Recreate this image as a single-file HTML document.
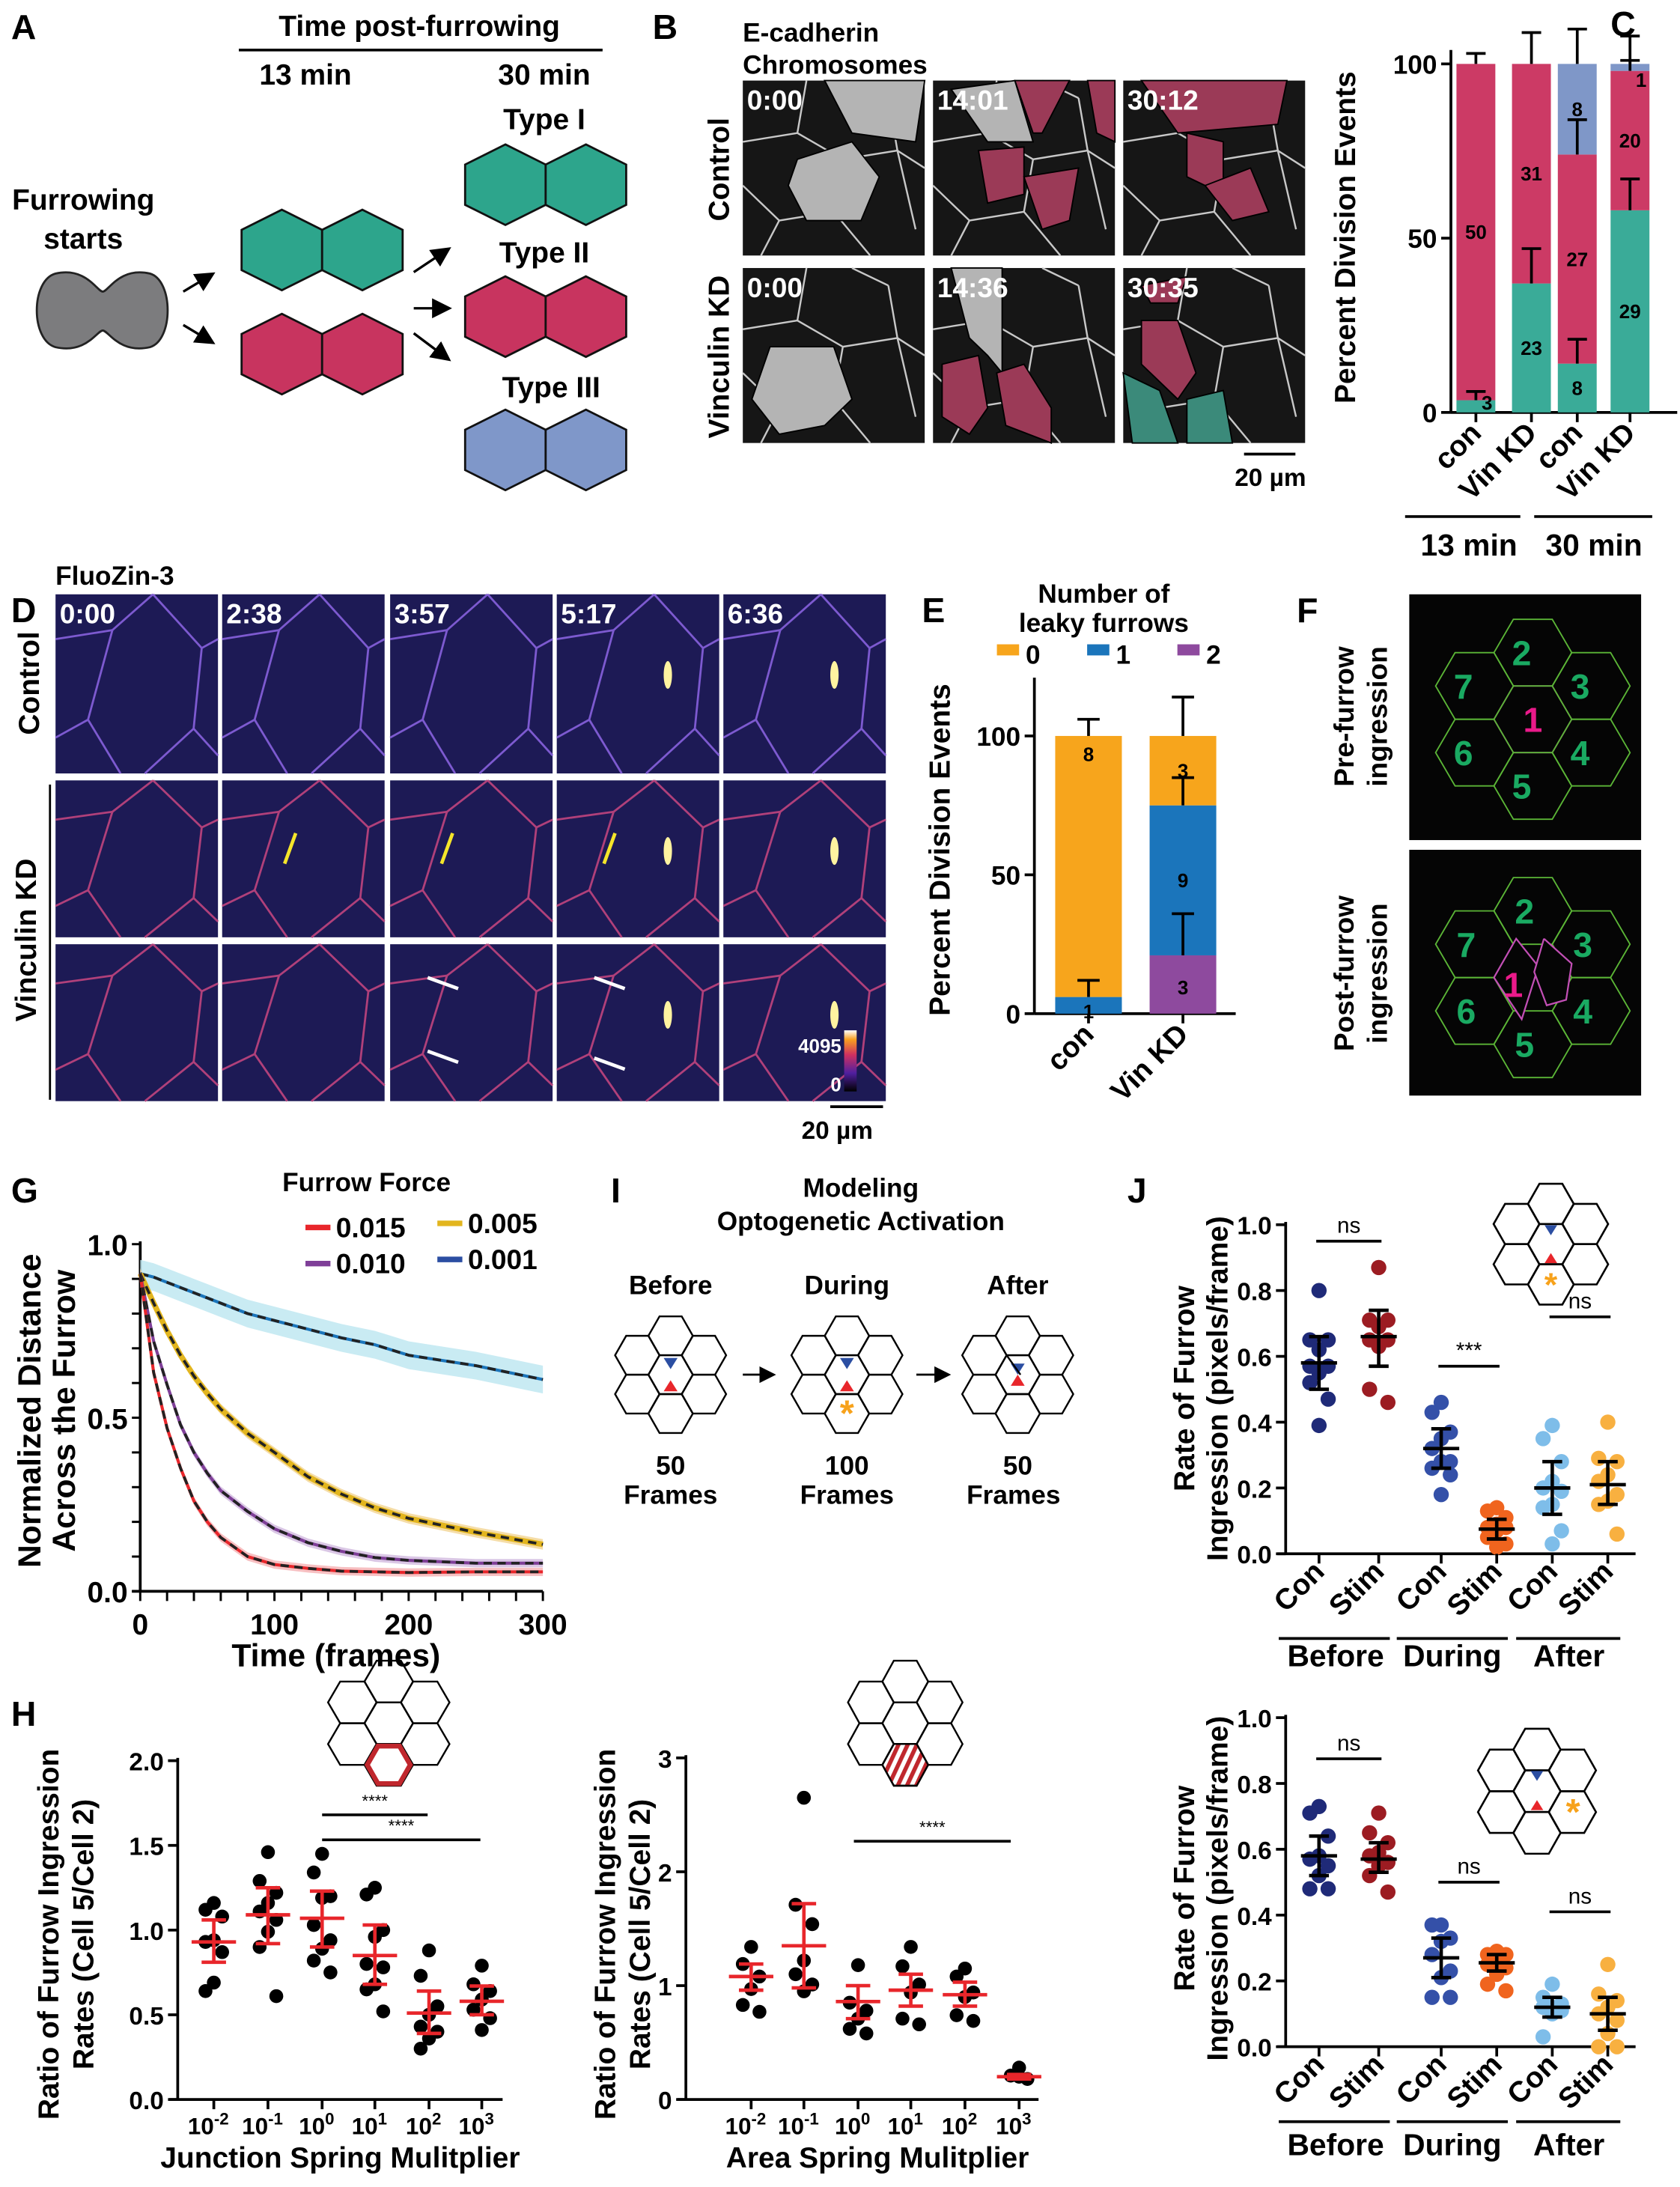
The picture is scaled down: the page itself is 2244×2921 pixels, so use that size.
<!DOCTYPE html>
<html><head><meta charset="utf-8"><style>
html,body{margin:0;padding:0;background:#fff;}
svg{display:block;font-family:"Liberation Sans",Arial,sans-serif;font-weight:bold;}
</style></head><body>
<svg id="fig" xmlns="http://www.w3.org/2000/svg" width="2244" height="2921" viewBox="0 0 1210 1575">
<rect x="0" y="0" width="1210" height="1575" fill="#fff"/>
<g font-size="25" fill="#000">
<text x="8" y="28">A</text><text x="470" y="28">B</text><text x="1160" y="26">C</text>
<text x="8" y="448">D</text><text x="664" y="448">E</text><text x="934" y="448">F</text>
<text x="8" y="866">G</text><text x="440" y="866">I</text><text x="812" y="866">J</text>
<text x="8" y="1243">H</text>
</g>
<g font-size="21" text-anchor="middle">
<text x="302" y="26">Time post-furrowing</text>
<line x1="172" y1="36" x2="434" y2="36" stroke="#000" stroke-width="2"/>
<text x="220" y="61">13 min</text><text x="392" y="61">30 min</text>
<text x="392" y="93">Type I</text><text x="392" y="189">Type II</text><text x="397" y="286">Type III</text>
<text x="60" y="151">Furrowing</text><text x="60" y="179">starts</text>
</g>
<g id="panelA"></g>
<g font-size="19">
<text x="535" y="30">E-cadherin</text><text x="535" y="53">Chromosomes</text>
<text transform="translate(525,122) rotate(-90)" text-anchor="middle" font-size="21">Control</text>
<text transform="translate(525,257) rotate(-90)" text-anchor="middle" font-size="21">Vinculin KD</text>
<line x1="896" y1="327" x2="933" y2="327" stroke="#000" stroke-width="2"/>
<text x="915" y="350" text-anchor="middle" font-size="18">20 µm</text>
</g>
<g id="panelB"></g>
<g id="panelC"></g>
<g font-size="19">
<text x="40" y="421">FluoZin-3</text>
<text transform="translate(28,492) rotate(-90)" text-anchor="middle" font-size="21">Control</text>
<text transform="translate(26,677) rotate(-90)" text-anchor="middle" font-size="21">Vinculin KD</text>
<line x1="36" y1="565" x2="36" y2="792" stroke="#000" stroke-width="1.5"/>
<line x1="598" y1="797" x2="636" y2="797" stroke="#000" stroke-width="2"/>
<text x="603" y="820" text-anchor="middle" font-size="18">20 µm</text>
</g>
<g id="panelD"></g>
<g id="panelE"></g>
<g font-size="20" text-anchor="middle">
<text transform="translate(975,516) rotate(-90)">Pre-furrow</text>
<text transform="translate(999,516) rotate(-90)">ingression</text>
<text transform="translate(975,701) rotate(-90)">Post-furrow</text>
<text transform="translate(999,701) rotate(-90)">ingression</text>
</g>
<g id="panelF"></g>
<g id="panelG"></g>
<g font-size="19" text-anchor="middle">
<text x="620" y="862">Modeling</text><text x="620" y="886">Optogenetic Activation</text>
<text x="483" y="932">Before</text><text x="610" y="932">During</text><text x="733" y="932">After</text>
<text x="483" y="1062">50</text><text x="483" y="1083">Frames</text>
<text x="610" y="1062">100</text><text x="610" y="1083">Frames</text>
<text x="733" y="1062">50</text><text x="730" y="1083">Frames</text>
</g>
<g id="panelI"></g>
<g id="panelH"></g>
<g id="panelJ"></g>
</svg>
<script>
// ---------------- DATA ----------------
const cCats = ['con', 'Vin KD', 'con', 'Vin KD'];
const cTeal = [3.5, 37, 14, 58];
const cMag = [96.5, 63, 60, 40];
const cBlue = [0, 0, 26, 2];
const cTealN = ['3', '23', '8', '29'];
const cMagN = ['50', '31', '27', '20'];
const cBlueN = ['', '', '8', '1'];
const cTealErr = [2.5, 10, 7, 9];
const cMagErr = [3, 9, 10, 3];
const cBlueErr = [0, 0, 10, 8];
const cTicks = [0, 50, 100];
const eCats = ['con', 'Vin KD'];
const e2 = [0, 21];
const e1 = [6, 54];
const e0 = [94, 25];
const e2Err = [0, 15];
const e1Err = [6, 10];
const e0Err = [6, 14];
const e0N = ['8', '3'];
const e1N = ['1', '9'];
const e2N = ['', '3'];
const eTicks = [0, 50, 100];
const gT = [0, 10, 20, 30, 40, 50, 60, 80, 100, 125, 150, 175, 200, 250, 300];
const gRed = [0.915, 0.63, 0.47, 0.355, 0.26, 0.20, 0.155, 0.10, 0.077, 0.066, 0.058, 0.056, 0.054, 0.056, 0.056];
const gPurple = [0.915, 0.72, 0.595, 0.48, 0.40, 0.34, 0.29, 0.23, 0.18, 0.14, 0.115, 0.097, 0.089, 0.081, 0.081];
const gYellow = [0.915, 0.83, 0.75, 0.68, 0.62, 0.57, 0.525, 0.455, 0.40, 0.33, 0.28, 0.24, 0.21, 0.17, 0.135];
const gBlue = [0.915, 0.905, 0.89, 0.875, 0.86, 0.845, 0.83, 0.80, 0.78, 0.755, 0.73, 0.71, 0.68, 0.65, 0.61];
const gBand = [0.012, 0.012, 0.015, 0.04];
const gLegend = ['0.015', '0.010', '0.005', '0.001'];
const gYTicks = [0, 0.5, 1.0];
const gXTicks = [0, 100, 200, 300];
const hCats = ['-2', '-1', '0', '1', '2', '3'];
const hLeftDots = [[1.16,1.12,1.08,0.94,0.93,0.87,0.69,0.64],[1.46,1.29,1.22,1.16,1.11,1.06,0.99,0.9,0.61],[1.45,1.34,1.2,1.19,1.03,0.94,0.89,0.82,0.75],[1.25,1.21,1.0,0.96,0.8,0.78,0.68,0.65,0.52],[0.88,0.73,0.55,0.5,0.43,0.4,0.36,0.3],[0.79,0.68,0.64,0.59,0.53,0.48,0.41]];
const hLeftMean = [0.93, 1.09, 1.07, 0.85, 0.51, 0.58];
const hLeftLo = [0.81, 0.92, 0.9, 0.68, 0.39, 0.5];
const hLeftHi = [1.06, 1.25, 1.23, 1.03, 0.64, 0.67];
const hLeftTicks = [0, 0.5, 1.0, 1.5, 2.0];
const hRightDots = [[1.34,1.19,1.08,0.97,0.83,0.77],[2.65,1.71,1.54,1.22,1.1,1.01,0.95],[1.18,0.85,0.78,0.71,0.62,0.58],[1.34,1.17,1.01,0.94,0.71,0.66],[1.15,1.08,0.94,0.9,0.74,0.69],[0.28,0.21,0.18,0.2]];
const hRightMean = [1.08, 1.35, 0.86, 0.96, 0.92, 0.2];
const hRightLo = [0.96, 0.98, 0.71, 0.82, 0.82, 0.18];
const hRightHi = [1.19, 1.72, 1.0, 1.1, 1.03, 0.22];
const hRightTicks = [0, 1, 2, 3];
const jCats = ['Con', 'Stim', 'Con', 'Stim', 'Con', 'Stim'];
const jGroups = ['Before', 'During', 'After'];
const jTopDots = [[0.80,0.65,0.65,0.62,0.57,0.57,0.55,0.52,0.47,0.39],[0.87,0.71,0.71,0.69,0.65,0.65,0.63,0.5,0.46],[0.46,0.43,0.37,0.35,0.32,0.28,0.28,0.26,0.24,0.18],[0.14,0.13,0.11,0.09,0.08,0.08,0.07,0.05,0.03,0.02],[0.39,0.35,0.28,0.22,0.2,0.19,0.15,0.14,0.07,0.03],[0.40,0.29,0.28,0.24,0.22,0.18,0.16,0.15,0.06]];
const jTopMean = [0.58, 0.66, 0.32, 0.075, 0.2, 0.21];
const jTopLo = [0.50, 0.57, 0.26, 0.045, 0.12, 0.15];
const jTopHi = [0.66, 0.74, 0.38, 0.105, 0.28, 0.28];
const jTopSig = [0.95, 0.57, 0.72];
const jTopSigLabel = ['ns', '***', 'ns'];
const jBotDots = [[0.73,0.71,0.64,0.58,0.57,0.55,0.52,0.48,0.48],[0.71,0.65,0.62,0.59,0.58,0.56,0.55,0.52,0.47],[0.37,0.37,0.33,0.32,0.28,0.23,0.21,0.15,0.15],[0.29,0.28,0.28,0.26,0.25,0.24,0.22,0.19,0.17],[0.19,0.15,0.13,0.12,0.12,0.11,0.1,0.03],[0.25,0.16,0.14,0.12,0.1,0.08,0.04,0.0,0.0]];
const jBotMean = [0.58, 0.57, 0.27, 0.255, 0.12, 0.1];
const jBotLo = [0.52, 0.53, 0.21, 0.23, 0.09, 0.05];
const jBotHi = [0.64, 0.62, 0.33, 0.28, 0.15, 0.15];
const jBotSig = [0.875, 0.5, 0.41];
const jBotSigLabel = ['ns', 'ns', 'ns'];
const jTicks = [0, 0.2, 0.4, 0.6, 0.8, 1.0];
const jColors = ['#1f2a78', '#9c1c22', '#3450a8', '#f0641e', '#7ebde9', '#f8b040'];

// ---------------- HELPERS ----------------
const NS = 'http://www.w3.org/2000/svg';
function mk(tag, attrs, parent, name) {
  const e = document.createElementNS(NS, tag);
  for (const k in attrs) e.setAttribute(k, attrs[k]);
  
  
  parent.appendChild(e);
  return e;
}
function txt(parent, x, y, s, size, anchor, name, extra) {
  const a = {x: x, y: y, 'font-size': size, 'text-anchor': anchor || 'middle'};
  if (extra) for (const k in extra) a[k] = extra[k];
  const t = mk('text', a, parent, name);
  t.textContent = s;
  return t;
}
function line(parent, x1, y1, x2, y2, w, col, name) {
  return mk('line', {x1: x1, y1: y1, x2: x2, y2: y2, stroke: col || '#000', 'stroke-width': w || 2}, parent, name);
}
function hexPtsPointy(cx, cy, w, h) {
  return [[cx, cy - h / 2], [cx + w / 2, cy - h / 4], [cx + w / 2, cy + h / 4], [cx, cy + h / 2], [cx - w / 2, cy + h / 4], [cx - w / 2, cy - h / 4]].map(p => p.join(',')).join(' ');
}
function hexPtsFlat(cx, cy, rx, ry) {
  return [[cx - rx, cy], [cx - rx / 2, cy - ry], [cx + rx / 2, cy - ry], [cx + rx, cy], [cx + rx / 2, cy + ry], [cx - rx / 2, cy + ry]].map(p => p.join(',')).join(' ');
}
function honeycomb(parent, cx, cy, rx, ry, sw) {
  const offs = [[0, 0], [0, -2 * ry], [0, 2 * ry], [-1.5 * rx, -ry], [-1.5 * rx, ry], [1.5 * rx, -ry], [1.5 * rx, ry]];
  offs.forEach(o => mk('polygon', {points: hexPtsFlat(cx + o[0], cy + o[1], rx, ry), fill: 'none', stroke: '#000', 'stroke-width': sw || 1.5}, parent, 'hex-cell'));
}
function tri(parent, cx, cy, s, down, col) {
  const p = down ? [[cx - s, cy - s * 0.8], [cx + s, cy - s * 0.8], [cx, cy + s * 0.8]] : [[cx - s, cy + s * 0.8], [cx + s, cy + s * 0.8], [cx, cy - s * 0.8]];
  return mk('polygon', {points: p.map(q => q.join(',')).join(' '), fill: col}, parent, down ? 'blue-triangle' : 'red-triangle');
}
function asterisk(parent, cx, cy, size) {
  return txt(parent, cx, cy + size * 0.75, '*', size * 2.2, 'middle', 'stimulation-asterisk', {fill: '#f7a21b'});
}

// ---------------- PANEL A ----------------
(function () {
  const g = document.getElementById('panelA');
  mk('path', {d: 'M40,197 C62,192 70,210 74,210 C78,210 86,192 108,197 C125,202 125,245 108,250 C86,255 78,238 74,238 C70,238 62,255 40,250 C22,245 22,202 40,197 Z', fill: '#7c7c7e', stroke: '#222', 'stroke-width': 1.5}, g, 'dividing-cell');
  const pairs = [[203, 180, '#2da58c'], [203, 255, '#c8345f'], [364, 133, '#2da58c'], [364, 228, '#c8345f'], [364, 324, '#7f97c9']];
  pairs.forEach(p => {
    mk('polygon', {points: hexPtsPointy(p[0], p[1], 58, 58), fill: p[2], stroke: '#111', 'stroke-width': 1.5}, g, 'daughter-cell');
    mk('polygon', {points: hexPtsPointy(p[0] + 58, p[1], 58, 58), fill: p[2], stroke: '#111', 'stroke-width': 1.5}, g, 'daughter-cell');
  });
  mk('defs', {}, g, 'defs').innerHTML = '<marker id="ah" markerWidth="8" markerHeight="8" refX="6" refY="4" orient="auto"><path d="M0,0 L8,4 L0,8 Z" fill="#000"/></marker>';
  [[132, 210, 152, 198], [132, 234, 152, 246], [298, 196, 322, 180], [298, 222, 322, 222], [298, 240, 322, 258]].forEach(a => {
    mk('line', {x1: a[0], y1: a[1], x2: a[2], y2: a[3], stroke: '#000', 'stroke-width': 1.8, 'marker-end': 'url(#ah)'}, g, 'arrow');
  });
})();

// ---------------- PANEL B ----------------
(function () {
  const g = document.getElementById('panelB');
  const cols = [535, 672, 809], rows = [58, 193], W = 131, H = 126;
  const times = [['0:00', '14:01', '30:12'], ['0:00', '14:36', '30:35']];
  const net = [[0,0.35,0.3,0.3],[0.3,0.3,0.55,0.45],[0.55,0.45,0.5,0.75],[0.5,0.75,0.2,0.8],[0.2,0.8,0.1,1],[0.55,0.45,0.85,0.4],[0.85,0.4,1,0.5],[0.85,0.4,0.8,0.1],[0.8,0.1,0.6,0],[0.5,0.75,0.7,1],[0.3,0.3,0.35,0],[0.85,0.4,0.95,0.85],[0,0.6,0.2,0.8]];
  const blobs = [
    [[['#b4b4b4', '0.45,0 1,0 0.95,0.35 0.6,0.3']], [['#b4b4b4', '0.3,0.45 0.6,0.35 0.75,0.55 0.65,0.8 0.35,0.8 0.25,0.6']]],
    [[['#b4b4b4', '0.1,0.05 0.45,0 0.55,0.35 0.3,0.35']], [['#9b3a57', '0.45,0 0.75,0 0.6,0.3 0.55,0.3']], [['#9b3a57', '0.25,0.4 0.5,0.38 0.5,0.65 0.3,0.7']], [['#9b3a57', '0.5,0.55 0.8,0.5 0.75,0.8 0.6,0.85']], [['#9b3a57', '0.85,0 1,0 1,0.35 0.9,0.3']]],
    [[['#9b3a57', '0.1,0 0.9,0 0.85,0.25 0.3,0.3']], [['#9b3a57', '0.35,0.3 0.55,0.35 0.55,0.65 0.35,0.55']], [['#9b3a57', '0.45,0.6 0.7,0.5 0.8,0.75 0.6,0.8']]],
    [[['#b4b4b4', '0.15,0.45 0.5,0.45 0.6,0.75 0.45,0.9 0.2,0.95 0.05,0.75']]],
    [[['#b4b4b4', '0.1,0 0.38,0 0.38,0.6 0.3,0.5 0.2,0.4']], [['#9b3a57', '0.05,0.55 0.25,0.5 0.3,0.8 0.2,0.95 0.05,0.85']], [['#9b3a57', '0.35,0.6 0.5,0.55 0.65,0.8 0.65,1 0.4,0.9']]],
    [[['#9b3a57', '0.1,0.1 0.35,0.05 0.3,0.2 0.15,0.2']], [['#9b3a57', '0.1,0.3 0.3,0.3 0.4,0.6 0.3,0.75 0.1,0.55']], [['#3b8a7a', '0,0.6 0.2,0.7 0.3,1 0.05,1']], [['#3b8a7a', '0.35,0.75 0.55,0.7 0.6,1 0.35,1']]]
  ];
  let k = 0;
  rows.forEach((y, r) => cols.forEach((x, c) => {
    mk('rect', {x: x, y: y, width: W, height: H, fill: '#161616'}, g, 'micrograph-frame');
    net.forEach(s => line(g, x + s[0] * W, y + s[1] * H, x + s[2] * W, y + s[3] * H, 1.3, '#c8c8c8', 'cell-junction'));
    blobs[k].forEach(b => {
      const pts = b[0][1].split(' ').map(p => { const q = p.split(','); return (x + q[0] * W) + ',' + (y + q[1] * H); }).join(' ');
      mk('polygon', {points: pts, fill: b[0][0], stroke: '#000', 'stroke-width': 1}, g, 'highlighted-cell');
    });
    txt(g, x + 3, y + 21, times[r][c], 20, 'start', 'timestamp', {fill: '#fff'});
    k++;
  }));
})();

// ---------------- PANEL C ----------------
(function () {
  const g = document.getElementById('panelC');
  const ax = 1045, y0 = 297, y100 = 46, bw = 28;
  const cx = [1063, 1103, 1136, 1174];
  const Y = v => y0 - v / 100 * (y0 - y100);
  line(g, ax, Y(0), ax, 36, 2, '#000', 'y-axis');
  line(g, ax, y0, 1208, y0, 2, '#000', 'x-axis');
  cTicks.forEach(t => { line(g, ax - 7, Y(t), ax, Y(t), 2, '#000', 'y-tick'); txt(g, ax - 10, Y(t) + 7, String(t), 19, 'end', 'y-tick-label'); });
  txt(g, 0, 0, 'Percent Division Events', 21, 'middle', 'y-axis-title', {transform: 'translate(976,171) rotate(-90)'});
  cCats.forEach((c, i) => {
    const x = cx[i] - bw / 2;
    const t1 = cTeal[i], t2 = cTeal[i] + cMag[i], t3 = t2 + cBlue[i];
    mk('rect', {x: x, y: Y(t1), width: bw, height: Y(0) - Y(t1), fill: '#3aab98'}, g, 'bar-type-i');
    mk('rect', {x: x, y: Y(t2), width: bw, height: Y(t1) - Y(t2), fill: '#cc3a65'}, g, 'bar-type-ii');
    if (cBlue[i] > 0) mk('rect', {x: x, y: Y(t3), width: bw, height: Y(t2) - Y(t3), fill: '#7f97c8'}, g, 'bar-type-iii');
    [[t1, cTealErr[i]], [t2, cMagErr[i]], [t3, cBlueErr[i]]].forEach(e => {
      if (e[1] <= 0) return;
      line(g, cx[i], Y(e[0]), cx[i], Y(e[0] + e[1]), 2, '#000', 'error-bar');
      line(g, cx[i] - 7, Y(e[0] + e[1]), cx[i] + 7, Y(e[0] + e[1]), 2, '#000', 'error-cap');
    });
    txt(g, cx[i] + (i === 0 ? 8 : 0), Y(i === 0 ? 0 : t1 / 2) + (i === 0 ? -2 : 5), cTealN[i], 14, 'middle', 'count-label');
    txt(g, cx[i], Y(t1 + cMag[i] / 2) + 5, cMagN[i], 14, 'middle', 'count-label');
    if (cBlueN[i]) txt(g, cx[i] + (i === 3 ? 8 : 0), Y(t2 + cBlue[i] / 2) + (i === 3 ? 14 : 5), cBlueN[i], 14, 'middle', 'count-label');
    line(g, cx[i], y0, cx[i], y0 + 7, 2, '#000', 'x-tick');
    txt(g, 0, 0, c, 21, 'end', 'x-tick-label', {transform: 'translate(' + (cx[i] + 5) + ',' + (y0 + 16) + ') rotate(-45)'});
  });
  line(g, 1012, 372, 1095, 372, 2, '#000', 'group-line');
  line(g, 1105, 372, 1190, 372, 2, '#000', 'group-line');
  txt(g, 1058, 400, '13 min', 22, 'middle', 'group-label');
  txt(g, 1148, 400, '30 min', 22, 'middle', 'group-label');
})();

// ---------------- PANEL D ----------------
(function () {
  const g = document.getElementById('panelD');
  const cols = [40, 160, 281, 401, 521], rows = [[428, 129], [562, 113], [680, 113]];
  const times = ['0:00', '2:38', '3:57', '5:17', '6:36'];
  const net = [[0,0.25,0.35,0.2],[0.35,0.2,0.6,0],[0.35,0.2,0.2,0.7],[0.2,0.7,0,0.8],[0.2,0.7,0.4,1],[0.6,0,0.9,0.3],[0.9,0.3,1,0.25],[0.9,0.3,0.85,0.75],[0.85,0.75,1,0.9],[0.85,0.75,0.55,1]];
  rows.forEach((r, ri) => cols.forEach((x, ci) => {
    mk('rect', {x: x, y: r[0], width: 117, height: r[1], fill: '#1d1a55'}, g, 'fluorescence-frame');
    net.forEach(s => line(g, x + s[0] * 117, r[0] + s[1] * r[1], x + s[2] * 117, r[0] + s[3] * r[1], 1.5, ri === 0 ? '#7d5ad0' : '#b0407a', 'membrane'));
    if (ri === 0) txt(g, x + 3, r[0] + 21, times[ci], 20, 'start', 'timestamp', {fill: '#fff'});
    if (ci >= 3) mk('ellipse', {cx: x + 80, cy: r[0] + r[1] * 0.45, rx: 3, ry: 10, fill: '#fff3a0'}, g, 'zinc-signal');
  }));
  [[213, 600], [326, 600], [443, 600]].forEach(a => {
    mk('line', {x1: a[0] - 8, y1: a[1] + 22, x2: a[0], y2: a[1], stroke: '#f5e52a', 'stroke-width': 2.5}, g, 'yellow-arrow');
  });
  [[330, 712], [330, 765], [450, 712], [450, 770]].forEach(a => {
    line(g, a[0] - 22, a[1] - 8, a[0], a[1], 2.5, '#fff', 'white-arrow');
  });
  mk('rect', {x: 608, y: 742, width: 9, height: 44, fill: 'url(#lut)'}, g, 'colorbar');
  mk('defs', {}, g, 'defs').innerHTML = '<linearGradient id="lut" x1="0" y1="1" x2="0" y2="0"><stop offset="0" stop-color="#000"/><stop offset="0.3" stop-color="#5020a0"/><stop offset="0.6" stop-color="#d03060"/><stop offset="0.85" stop-color="#f8a020"/><stop offset="1" stop-color="#fff"/></linearGradient>';
  txt(g, 606, 758, '4095', 14, 'end', 'colorbar-max', {fill: '#fff'});
  txt(g, 606, 786, '0', 14, 'end', 'colorbar-min', {fill: '#fff'});
})();

// ---------------- PANEL E ----------------
(function () {
  const g = document.getElementById('panelE');
  const ax = 745, y0 = 730, y100 = 530, bw = 48, cx = [784, 852];
  const Y = v => y0 - v / 100 * (y0 - y100);
  txt(g, 795, 434, 'Number of', 19, 'middle', 'legend-title');
  txt(g, 795, 455, 'leaky furrows', 19, 'middle', 'legend-title');
  [['#f7a51c', 718, '0'], ['#1b75bb', 783, '1'], ['#8e4a9e', 848, '2']].forEach(l => {
    mk('rect', {x: l[1], y: 464, width: 16, height: 8, fill: l[0]}, g, 'legend-swatch');
    txt(g, l[1] + 26, 478, l[2], 19, 'middle', 'legend-entry');
  });
  line(g, ax, y0, ax, 488, 2, '#000', 'y-axis');
  line(g, ax, y0, 890, y0, 2, '#000', 'x-axis');
  eTicks.forEach(t => { line(g, ax - 7, Y(t), ax, Y(t), 2, '#000', 'y-tick'); txt(g, ax - 10, Y(t) + 7, String(t), 19, 'end', 'y-tick-label'); });
  txt(g, 0, 0, 'Percent Division Events', 21, 'middle', 'y-axis-title', {transform: 'translate(684,612) rotate(-90)'});
  eCats.forEach((c, i) => {
    const x = cx[i] - bw / 2;
    const a = e2[i], b = a + e1[i], d = b + e0[i];
    if (a > 0) mk('rect', {x: x, y: Y(a), width: bw, height: Y(0) - Y(a), fill: '#8e4a9e'}, g, 'bar-two-leaky');
    mk('rect', {x: x, y: Y(b), width: bw, height: Y(a) - Y(b), fill: '#1b75bb'}, g, 'bar-one-leaky');
    mk('rect', {x: x, y: Y(d), width: bw, height: Y(b) - Y(d), fill: '#f7a51c'}, g, 'bar-zero-leaky');
    [[a, e2Err[i]], [b, e1Err[i]], [d, e0Err[i]]].forEach(e => {
      if (e[1] <= 0) return;
      line(g, cx[i], Y(e[0]), cx[i], Y(e[0] + e[1]), 2, '#000', 'error-bar');
      line(g, cx[i] - 8, Y(e[0] + e[1]), cx[i] + 8, Y(e[0] + e[1]), 2, '#000', 'error-cap');
    });
    txt(g, cx[i], Y(b + e0[i] * (i === 0 ? 0.93 : 0.5)) + 5, e0N[i], 14, 'middle', 'count-label');
    txt(g, cx[i], Y(a + e1[i] * (i === 0 ? 0.15 : 0.5)) + 5, e1N[i], 14, 'middle', 'count-label');
    if (e2N[i]) txt(g, cx[i], Y(a * 0.45) + 5, e2N[i], 14, 'middle', 'count-label');
    line(g, cx[i], y0, cx[i], y0 + 7, 2, '#000', 'x-tick');
    txt(g, 0, 0, c, 21, 'end', 'x-tick-label', {transform: 'translate(' + (cx[i] + 5) + ',' + (y0 + 16) + ') rotate(-45)'});
  });
})();

// ---------------- PANEL F ----------------
(function () {
  const g = document.getElementById('panelF');
  const boxes = [428, 612];
  boxes.forEach(by => mk('rect', {x: 1015, y: by, width: 167, height: 177, fill: '#050505'}, g, 'diagram-box'));
  const rx = 28, ry = 24, cx = 1104, cy = 518;
  const offs = [[0, 0, '1'], [0, -2 * ry, '2'], [1.5 * rx, -ry, '3'], [1.5 * rx, ry, '4'], [0, 2 * ry, '5'], [-1.5 * rx, ry, '6'], [-1.5 * rx, -ry, '7']];
  offs.forEach(o => {
    mk('polygon', {points: hexPtsFlat(cx + o[0], cy + o[1], rx, ry), fill: 'none', stroke: o[2] === '1' ? '#c24fb5' : '#5bb536', 'stroke-width': 1}, g, 'cell-outline');
    txt(g, cx + o[0] - (o[2] === '1' ? 0 : 8), cy + o[1] + 9, o[2], 25, 'middle', 'cell-number', {fill: o[2] === '1' ? '#ea1a8a' : '#1aaa62'});
  });
  const dy = 186;
  const post = [[0, -2 * ry, '2'], [1.5 * rx, -ry, '3'], [1.5 * rx, ry, '4'], [0, 2 * ry, '5'], [-1.5 * rx, ry, '6'], [-1.5 * rx, -ry, '7']];
  post.forEach(o => {
    mk('polygon', {points: hexPtsFlat(cx + o[0], cy + dy + o[1], rx, ry), fill: 'none', stroke: '#5bb536', 'stroke-width': 1}, g, 'cell-outline');
    txt(g, cx + o[0] - 6, cy + dy + o[1] + 9, o[2], 25, 'middle', 'cell-number', {fill: '#1aaa62'});
  });
  mk('polyline', {points: (cx - 28) + ',' + (cy + dy) + ' ' + (cx - 12) + ',' + (cy + dy - 28) + ' ' + (cx + 4) + ',' + (cy + dy - 8) + ' ' + (cx - 8) + ',' + (cy + dy + 30) + ' ' + (cx - 28) + ',' + (cy + dy), fill: '#050505', stroke: '#c24fb5', 'stroke-width': 1.2}, g, 'daughter-outline');
  mk('polyline', {points: (cx + 8) + ',' + (cy + dy - 28) + ' ' + (cx + 28) + ',' + (cy + dy - 10) + ' ' + (cx + 24) + ',' + (cy + dy + 16) + ' ' + (cx + 10) + ',' + (cy + dy + 20) + ' ' + (cx + 1) + ',' + (cy + dy - 4) + ' ' + (cx + 8) + ',' + (cy + dy - 28), fill: '#050505', stroke: '#c24fb5', 'stroke-width': 1.2}, g, 'daughter-outline');
  txt(g, cx - 14, cy + dy + 14, '1', 25, 'middle', 'cell-number', {fill: '#ea1a8a'});
})();

// ---------------- PANEL G ----------------
(function () {
  const g = document.getElementById('panelG');
  const x0 = 101, x300 = 391, y0 = 1146, y1 = 896;
  const X = t => x0 + t / 300 * (x300 - x0);
  const Y = v => y0 - v * (y0 - y1);
  line(g, x0, y0, x0, y1 - 2, 2, '#000', 'y-axis');
  line(g, x0 - 6, y0, X(300), y0, 2, '#000', 'x-axis');
  for (let v = 0; v <= 10; v++) line(g, x0 - 6, Y(v / 10), x0, Y(v / 10), 1.6, '#000', 'y-minor-tick');
  for (let t = 0; t <= 300; t += 20) line(g, X(t), y0, X(t), y0 + 7, 1.6, '#000', 'x-minor-tick');
  gYTicks.forEach(t => txt(g, x0 - 9, Y(t) + 8, t.toFixed(1), 21, 'end', 'y-tick-label'));
  gXTicks.forEach(t => txt(g, X(t), y0 + 31, String(t), 21, 'middle', 'x-tick-label'));
  txt(g, 242, 1200, 'Time (frames)', 23, 'middle', 'x-axis-title');
  txt(g, 0, 0, 'Normalized Distance', 23, 'middle', 'y-axis-title', {transform: 'translate(29,1016) rotate(-90)'});
  txt(g, 0, 0, 'Across the Furrow', 23, 'middle', 'y-axis-title', {transform: 'translate(54,1016) rotate(-90)'});
  txt(g, 264, 858, 'Furrow Force', 19, 'middle', 'legend-title');
  const series = [gRed, gPurple, gYellow, gBlue];
  const lineCols = ['#e8262b', '#7f3f98', '#e2b51e', '#1b75bb'];
  const bandCols = ['#f6b5b7', '#d4bde0', '#f3d799', '#bfe8f1'];
  const legCols = ['#e8262b', '#7f3f98', '#e2b51e', '#2b4ea2'];
  [3, 2, 1, 0].forEach(si => {
    const s = series[si];
    const up = gT.map((t, i) => X(t) + ',' + Y(s[i] + gBand[si])).join(' ');
    const dn = gT.map((t, i) => X(t) + ',' + Y(s[i] - gBand[si])).reverse().join(' ');
    mk('polygon', {points: up + ' ' + dn, fill: bandCols[si], opacity: 0.85}, g, 'confidence-band');
  });
  [3, 2, 1, 0].forEach(si => {
    const s = series[si];
    const pts = gT.map((t, i) => X(t) + ',' + Y(s[i])).join(' ');
    mk('polyline', {points: pts, fill: 'none', stroke: lineCols[si], 'stroke-width': si === 2 ? 4 : 2.2, 'stroke-linejoin': 'round'}, g, 'series-line');
    mk('polyline', {points: pts, fill: 'none', stroke: '#222', 'stroke-width': 2, 'stroke-dasharray': '6,4'}, g, 'model-fit-line');
  });
  const legPos = [[220, 884], [220, 910], [315, 881], [315, 907]];
  gLegend.forEach((l, i) => {
    line(g, legPos[i][0], legPos[i][1], legPos[i][0] + 18, legPos[i][1], 4, legCols[i], 'legend-line');
    txt(g, legPos[i][0] + 22, legPos[i][1] + 7, l, 20, 'start', 'legend-entry');
  });
})();

// ---------------- PANEL I ----------------
(function () {
  const g = document.getElementById('panelI');
  const rx = 16, ry = 14;
  [[483, 990], [610, 990], [733, 990]].forEach((c, i) => {
    honeycomb(g, c[0], c[1], rx, ry, 1.3);
    if (i < 2) {
      tri(g, c[0], c[1] - ry + 6, 5, true, '#2b4ea2');
      tri(g, c[0], c[1] + ry - 6, 5, false, '#e8262b');
    } else {
      tri(g, c[0], c[1] - 4, 5, true, '#2b4ea2');
      tri(g, c[0], c[1] + 4, 5, false, '#e8262b');
      mk('line', {x1: c[0] - rx / 2, y1: c[1] - ry, x2: c[0] + 2, y2: c[1], stroke: '#000', 'stroke-width': 1.3}, g, 'furrow-edge');
    }
    if (i === 1) asterisk(g, c[0], c[1] + 2 * ry, 12);
  });
  mk('defs', {}, g, 'defs').innerHTML = '<marker id="ah2" markerWidth="8" markerHeight="8" refX="6" refY="4" orient="auto"><path d="M0,0 L8,4 L0,8 Z" fill="#000"/></marker>';
  [[535, 556], [660, 682]].forEach(a => mk('line', {x1: a[0], y1: 990, x2: a[1], y2: 990, stroke: '#000', 'stroke-width': 1.5, 'marker-end': 'url(#ah2)'}, g, 'sequence-arrow'));
})();

// ---------------- SCATTER HELPER ----------------
function scatter(g, opts) {
  const Y = v => opts.y0 - (v - opts.min) / (opts.max - opts.min) * (opts.y0 - opts.yTop);
  line(g, opts.ax, opts.y0, opts.ax, opts.yTop - 2, 2, '#000', 'y-axis');
  line(g, opts.ax - 6, opts.y0, opts.xEnd, opts.y0, 2, '#000', 'x-axis');
  opts.ticks.forEach(t => {
    line(g, opts.ax - 7, Y(t), opts.ax, Y(t), 2, '#000', 'y-tick');
    txt(g, opts.ax - 10, Y(t) + 7, opts.fmt(t), 18, 'end', 'y-tick-label');
  });
  opts.dots.forEach((arr, i) => {
    const cx = opts.cx[i];
    arr.forEach((v, j) => {
      const off = (j % 3 === 0 ? 0 : (j % 3 === 1 ? -1 : 1)) * opts.r * 1.2;
      mk('circle', {cx: cx + off, cy: Y(v), r: opts.r, fill: opts.colors[i]}, g, 'data-point');
    });
    line(g, cx - opts.mw, Y(opts.mean[i]), cx + opts.mw, Y(opts.mean[i]), 2.5, opts.errCol, 'mean-line');
    line(g, cx, Y(opts.lo[i]), cx, Y(opts.hi[i]), 2.5, opts.errCol, 'error-bar');
    line(g, cx - opts.mw * 0.55, Y(opts.lo[i]), cx + opts.mw * 0.55, Y(opts.lo[i]), 2.5, opts.errCol, 'error-cap');
    line(g, cx - opts.mw * 0.55, Y(opts.hi[i]), cx + opts.mw * 0.55, Y(opts.hi[i]), 2.5, opts.errCol, 'error-cap');
    line(g, cx, opts.y0, cx, opts.y0 + 7, 2, '#000', 'x-tick');
  });
  return Y;
}
function sig(g, x1, x2, y, label, size) {
  line(g, x1, y, x2, y, 2, '#000', 'significance-bar');
  txt(g, (x1 + x2) / 2, y - 6, label, size || 15, 'middle', 'significance-label', {'font-weight': 'normal'});
}

// ---------------- PANEL H ----------------
(function () {
  const g = document.getElementById('panelH');
  const blacks = hCats.map(() => '#000');
  const cxL = [154, 193, 232, 270, 309, 347];
  scatter(g, {ax: 128, y0: 1512, yTop: 1268, min: 0, max: 2, xEnd: 362, ticks: hLeftTicks, fmt: t => t.toFixed(1), dots: hLeftDots, cx: cxL, r: 5, colors: blacks, mean: hLeftMean, lo: hLeftLo, hi: hLeftHi, mw: 16, errCol: '#e8262b'});
  const cxR = [541, 579, 618, 656, 695, 734];
  scatter(g, {ax: 494, y0: 1512, yTop: 1266, min: 0, max: 3, xEnd: 748, ticks: hRightTicks, fmt: t => String(t), dots: hRightDots, cx: cxR, r: 5, colors: blacks, mean: hRightMean, lo: hRightLo, hi: hRightHi, mw: 16, errCol: '#e8262b'});
  [[cxL, 'Junction Spring Mulitplier', 245], [cxR, 'Area Spring Mulitplier', 632]].forEach(p => {
    p[0].forEach((x, i) => {
      const t = txt(g, x - 4, 1537, '10', 17, 'middle', 'x-tick-label');
      const s = document.createElementNS(NS, 'tspan');
      s.setAttribute('dy', '-7');
      s.setAttribute('font-size', '12');
      s.textContent = hCats[i];
      t.appendChild(s);
    });
    txt(g, p[2], 1561, p[1], 21, 'middle', 'x-axis-title');
  });
  txt(g, 0, 0, 'Ratio of Furrow Ingression', 21, 'middle', 'y-axis-title', {transform: 'translate(42,1393) rotate(-90)'});
  txt(g, 0, 0, 'Rates (Cell 5/Cell 2)', 21, 'middle', 'y-axis-title', {transform: 'translate(67,1393) rotate(-90)'});
  txt(g, 0, 0, 'Ratio of Furrow Ingression', 21, 'middle', 'y-axis-title', {transform: 'translate(443,1393) rotate(-90)'});
  txt(g, 0, 0, 'Rates (Cell 5/Cell 2)', 21, 'middle', 'y-axis-title', {transform: 'translate(468,1393) rotate(-90)'});
  sig(g, 232, 308, 1307, '****', 12);
  sig(g, 232, 346, 1325, '****', 12);
  sig(g, 615, 728, 1326, '****', 12);
  honeycomb(g, 280, 1241, 17.5, 15, 1.3);
  mk('polygon', {points: hexPtsFlat(280, 1271, 15.5, 13.5), fill: 'none', stroke: '#c0272d', 'stroke-width': 3.5}, g, 'highlighted-junction-cell');
  honeycomb(g, 652, 1241, 16.5, 15, 1.3);
  const pat = mk('defs', {}, g, 'defs');
  pat.innerHTML = '<pattern id="stripes" width="6" height="6" patternUnits="userSpaceOnUse" patternTransform="rotate(25)"><rect width="3" height="6" fill="#c0272d"/></pattern>';
  mk('polygon', {points: hexPtsFlat(652, 1271, 16.5, 15), fill: 'url(#stripes)', stroke: '#000', 'stroke-width': 1.3}, g, 'highlighted-area-cell');
})();

// ---------------- PANEL J ----------------
(function () {
  const g = document.getElementById('panelJ');
  const cxs = [950, 993, 1038, 1078, 1118, 1158];
  const Yt = scatter(g, {ax: 926, y0: 1119, yTop: 882, min: 0, max: 1, xEnd: 1178, ticks: jTicks, fmt: t => t.toFixed(1), dots: jTopDots, cx: cxs, r: 5.5, colors: jColors, mean: jTopMean, lo: jTopLo, hi: jTopHi, mw: 13, errCol: '#000'});
  const Yb = scatter(g, {ax: 926, y0: 1474, yTop: 1237, min: 0, max: 1, xEnd: 1178, ticks: jTicks, fmt: t => t.toFixed(1), dots: jBotDots, cx: cxs, r: 5.5, colors: jColors, mean: jBotMean, lo: jBotLo, hi: jBotHi, mw: 13, errCol: '#000'});
  [[1119, 1180, 1200, 1000], [1474, 1528, 1552, 1360]].forEach(p => {
    cxs.forEach((x, i) => txt(g, 0, 0, jCats[i], 21, 'end', 'x-tick-label', {transform: 'translate(' + (x + 5) + ',' + (p[0] + 14) + ') rotate(-45)'}));
    const gx = [[921, 1001, 962], [1006, 1086, 1046], [1092, 1167, 1130]];
    for (let k = 0; k < 3; k++) {
      line(g, gx[k][0], p[1], gx[k][1], p[1], 2, '#000', 'group-line');
      txt(g, gx[k][2], p[2], jGroups[k], 22, 'middle', 'group-label');
    }
    txt(g, 0, 0, 'Rate of Furrow', 21, 'middle', 'y-axis-title', {transform: 'translate(860,' + p[3] + ') rotate(-90)'});
    txt(g, 0, 0, 'Ingression (pixels/frame)', 21, 'middle', 'y-axis-title', {transform: 'translate(884,' + p[3] + ') rotate(-90)'});
  });
  for (let k = 0; k < 3; k++) {
    sig(g, cxs[2 * k] - 2, cxs[2 * k + 1] + 2, Yt(jTopSig[k]), jTopSigLabel[k], 16);
    sig(g, cxs[2 * k] - 2, cxs[2 * k + 1] + 2, Yb(jBotSig[k]), jBotSigLabel[k], 16);
  }
  honeycomb(g, 1117, 896, 16.5, 14.5, 1.4);
  tri(g, 1117, 886, 4.5, true, '#2b4ea2');
  tri(g, 1117, 906, 4.5, false, '#e8262b');
  asterisk(g, 1117, 925, 11);
  honeycomb(g, 1107, 1290, 17, 15, 1.4);
  tri(g, 1107, 1279, 4.5, true, '#2b4ea2');
  tri(g, 1107, 1300, 4.5, false, '#e8262b');
  asterisk(g, 1133, 1305, 12);
})();
</script>
</body></html>
